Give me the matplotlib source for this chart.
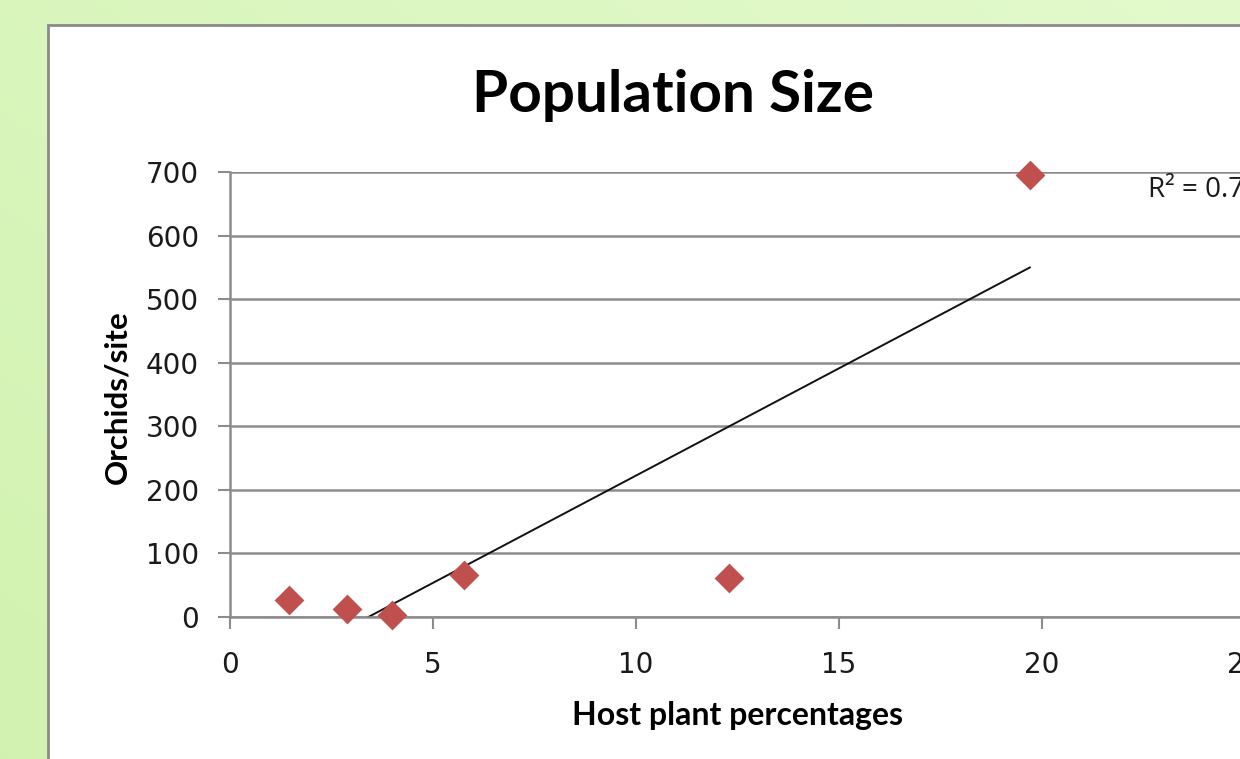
import numpy as np
import matplotlib.pyplot as plt
from matplotlib.patches import Rectangle

# Host plant percentage vs. orchid count per site
host_pct = [1.45, 2.88, 3.99, 5.76, 12.3, 19.7]
orchids = [27, 13, 3, 66, 61, 695]

xticks = [0, 5, 10, 15, 20, 25]
yticks = [0, 100, 200, 300, 400, 500, 600, 700]

W, H = 1240, 759
fig = plt.figure(figsize=(W / 100, H / 100), dpi=100)

# green slide background
bg = fig.add_axes([0, 0, 1, 1], zorder=-2)
gx = np.linspace(0, 1, 256)
gy = np.linspace(0, 1, 256)
GX, GY = np.meshgrid(gx, gy)
shade = 0.55 * GX + 0.45 * (1 - GY)
c0 = np.array([0.82, 0.95, 0.69])
c1 = np.array([0.89, 0.98, 0.80])
img = c0 + (c1 - c0) * shade[..., None]
bg.imshow(img, aspect='auto', extent=[0, 1, 0, 1], origin='upper')
bg.set_axis_off()

# white chart box
fig.patches.append(Rectangle((48 / W, -0.05), 1.1, (H - 25) / H + 0.05,
                             transform=fig.transFigure, facecolor='white',
                             edgecolor='#8a8a8a', linewidth=2, zorder=-1))

ax = fig.add_axes([230 / W, (H - 617) / H, (1245 - 230) / W, (617 - 172) / H])
ax.set_facecolor('none')

ax.scatter(host_pct, orchids, marker='D', s=230, color='#c0504d',
           linewidths=0, zorder=3, clip_on=False)

# linear trendline
slope, icpt = np.polyfit(host_pct, orchids, 1)
xs = np.array([min(host_pct), max(host_pct)])
ax.plot(xs, slope * xs + icpt, color='#111111', lw=1.4, zorder=2)
pred = slope * np.array(host_pct) + icpt
resid = np.array(orchids) - pred
r2 = 1 - np.sum(resid ** 2) / np.sum((np.array(orchids) - np.mean(orchids)) ** 2)
ax.text(22.6, 672, 'R² = %.4f' % r2, fontsize=20, family='Open Sans',
        color='#1a1a1a', ha='left', va='center', clip_on=False)

ax.set_xlim(0, 25)
ax.set_ylim(0, 700)
ax.set_xticks(xticks)
ax.set_yticks(yticks)
ax.yaxis.grid(True, color='#8c8c8c', lw=1.8)
ax.set_axisbelow(True)
for s in ['top', 'right']:
    ax.spines[s].set_visible(False)
for s in ['left', 'bottom']:
    ax.spines[s].set_color('#8c8c8c')
    ax.spines[s].set_linewidth(1.8)
ax.tick_params(axis='y', length=8.5, width=1.5, color='#8c8c8c', pad=14,
               labelsize=20, labelcolor='#1a1a1a')
ax.tick_params(axis='x', length=8.5, width=1.5, color='#8c8c8c', pad=16,
               labelsize=20, labelcolor='#1a1a1a')

fig.text(673 / W, 1 - 95 / H, 'Population Size', fontsize=42,
         fontweight='bold', family='Lato', ha='center', va='center')
fig.text(737 / W, 1 - 716 / H, 'Host plant percentages', fontsize=23,
         fontweight='bold', family='Lato', ha='center', va='center')
fig.text(117 / W, 1 - 397 / H, 'Orchids/site', fontsize=22.5,
         fontweight='bold', family='Lato', rotation=90, ha='center', va='center')

fig.savefig('out.png', dpi=100)
